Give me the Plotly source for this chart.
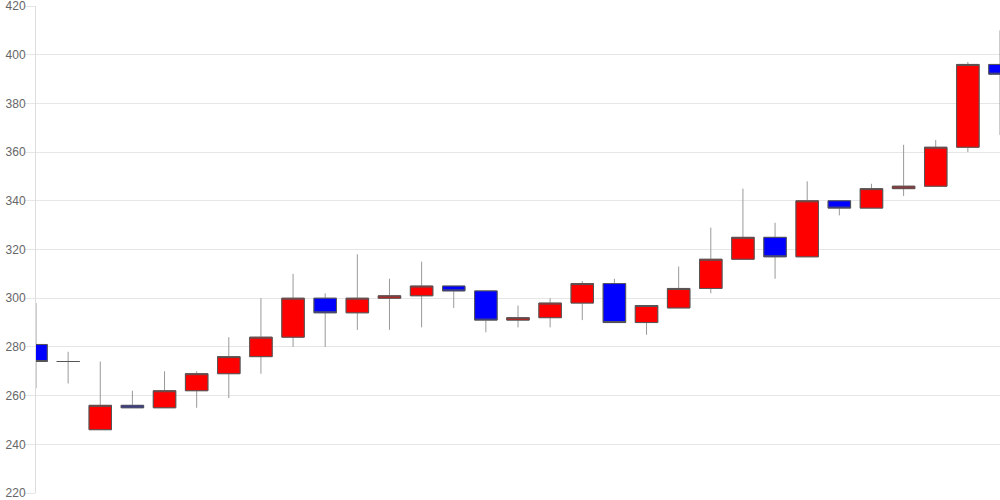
"""
株価ローソク足チャート（日足）
"""
import plotly.graph_objects as go

# 日付インデックス（左端から右端まで31本）
days = list(range(31))

opens = [281, 274, 246, 256, 255, 262, 269, 276, 284, 300,
         294, 300, 301, 305, 303, 291, 292, 298, 306, 290,
         296, 304, 316, 325, 317, 340, 337, 345, 346, 362,
         396]
highs = [298, 278, 274, 262, 270, 270, 284, 300, 310, 302,
         318, 308, 315, 305, 303, 297, 300, 307, 308, 297,
         313, 329, 345, 331, 348, 340, 347, 363, 365, 397,
         410]
lows = [263, 265, 246, 255, 255, 255, 259, 269, 280, 280,
        287, 287, 288, 296, 286, 288, 288, 291, 290, 285,
        296, 302, 316, 308, 317, 334, 337, 342, 346, 360,
        367]
closes = [274, 274, 256, 255, 262, 269, 276, 284, 300, 294,
          300, 301, 305, 303, 291, 292, 298, 306, 290, 297,
          304, 316, 325, 317, 340, 337, 345, 346, 362, 396,
          392]

y_ticks = [220, 240, 260, 280, 300, 320, 340, 360, 380, 400, 420]

UP = '#FF0000'
DOWN = '#0000FF'

fig = go.Figure()

# ヒゲ（薄いグレー）
fig.add_trace(go.Candlestick(
    x=days, open=opens, high=highs, low=lows, close=closes,
    increasing=dict(line=dict(color='#999999', width=1), fillcolor=UP),
    decreasing=dict(line=dict(color='#999999', width=1), fillcolor=DOWN),
    whiskerwidth=0,
    hoverinfo='skip',
    showlegend=False,
))

# 実体（濃いグレーの枠）
body_hi = [max(o, c) for o, c in zip(opens, closes)]
body_lo = [min(o, c) for o, c in zip(opens, closes)]
fig.add_trace(go.Candlestick(
    x=days, open=opens, high=body_hi, low=body_lo, close=closes,
    increasing=dict(line=dict(color='#555555', width=1), fillcolor=UP),
    decreasing=dict(line=dict(color='#555555', width=1), fillcolor=DOWN),
    whiskerwidth=0,
    showlegend=False,
))

fig.update_layout(
    width=1000,
    height=500,
    margin=dict(l=36, r=0, t=6, b=7, autoexpand=False),
    paper_bgcolor='white',
    plot_bgcolor='white',
    font=dict(family='Liberation Sans, Arial, sans-serif', size=12, color='#666666'),
    showlegend=False,
    boxgap=0.3,
    boxgroupgap=0,
    xaxis=dict(
        range=[0, 30],
        autorange=False,
        automargin=False,
        showgrid=False,
        showticklabels=False,
        zeroline=False,
        showline=False,
        ticks='',
        rangeslider=dict(visible=False),
    ),
    yaxis=dict(
        range=[220, 420],
        autorange=False,
        automargin=False,
        tickvals=y_ticks,
        ticklabeloverflow='allow',
        ticklabelstandoff=-3,
        showgrid=True,
        gridcolor='#e6e6e6',
        gridwidth=1,
        zeroline=False,
        showline=True,
        linecolor='#dddddd',
        linewidth=1,
        ticks='outside',
        ticklen=10,
        tickcolor='#e6e6e6',
        tickfont=dict(size=12, color='#666666'),
    ),
)

# ページ余白を消して 1000x500 の枠にぴったり合わせる
fig.write_html(
    "out.html",
    config={'displayModeBar': False},
    post_script="document.body.style.margin='0';",
)
